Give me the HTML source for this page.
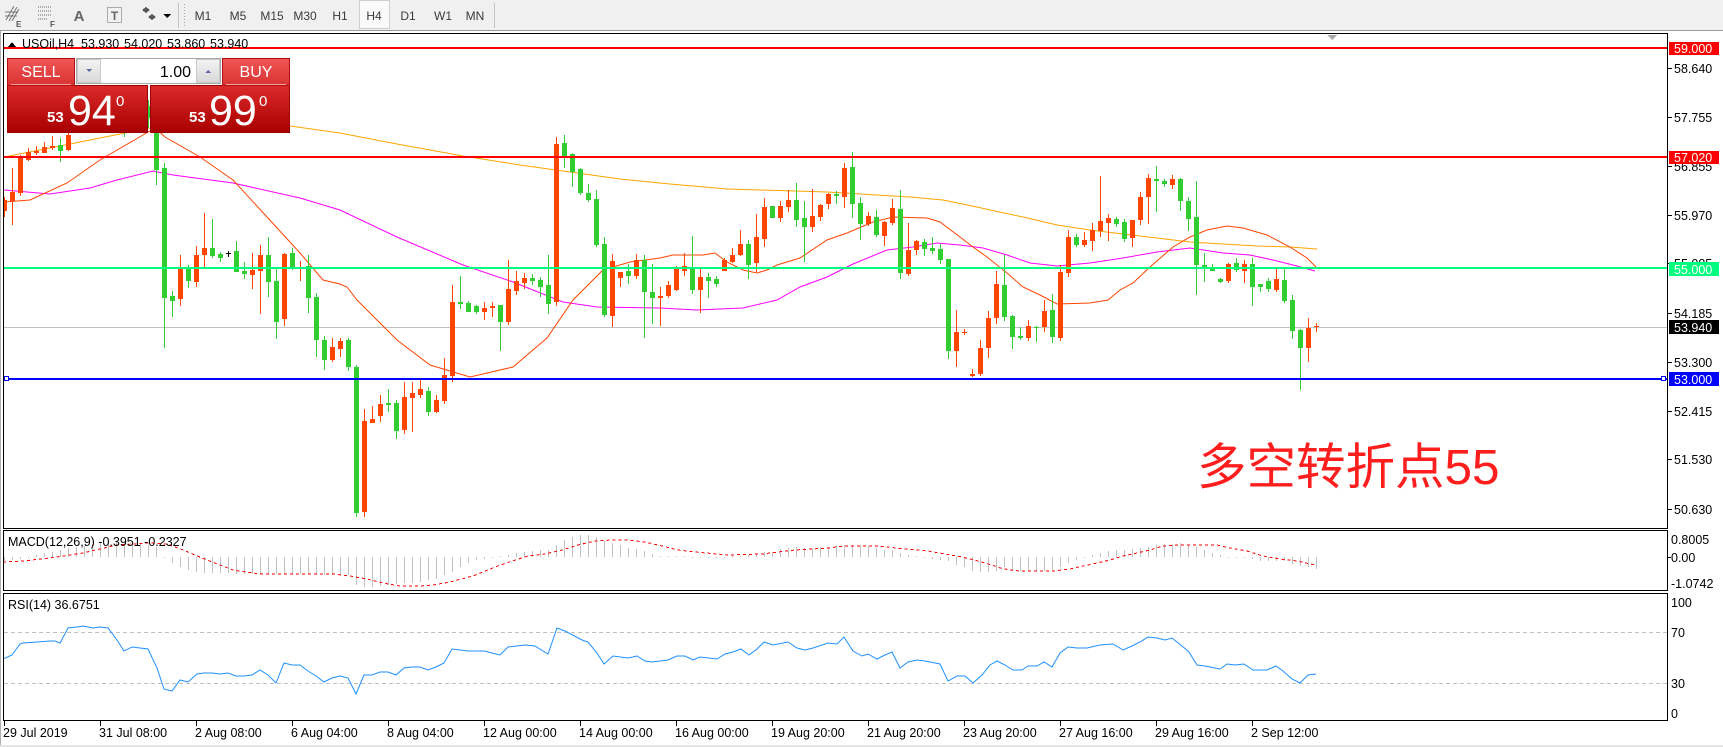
<!DOCTYPE html>
<html><head><meta charset="utf-8"><style>
html,body{margin:0;padding:0;background:#fff;overflow:hidden;width:1723px;height:747px}
svg{display:block;font-family:"Liberation Sans","Noto Sans CJK SC",sans-serif}
</style></head><body>
<svg width="1723" height="747" viewBox="0 0 1723 747" xmlns="http://www.w3.org/2000/svg" shape-rendering="crispEdges">
<defs>
<clipPath id="cm"><rect x="4" y="34" width="1663" height="494"/></clipPath>
<clipPath id="cd"><rect x="4" y="531" width="1663" height="59"/></clipPath>
<clipPath id="cr"><rect x="4" y="594" width="1663" height="126"/></clipPath>
<linearGradient id="gh" x1="0" y1="0" x2="0" y2="1"><stop offset="0" stop-color="#f25656"/><stop offset="1" stop-color="#d83232"/></linearGradient>
<linearGradient id="gp" x1="0" y1="0" x2="0" y2="1"><stop offset="0" stop-color="#dc2a2a"/><stop offset="1" stop-color="#a80000"/></linearGradient>
<linearGradient id="gb" x1="0" y1="0" x2="0" y2="1"><stop offset="0" stop-color="#f4f4f4"/><stop offset="1" stop-color="#d8d8d8"/></linearGradient>
</defs>
<!-- toolbar -->
<rect x="0" y="0" width="1723" height="30" fill="#f0f0f0"/>
<rect x="0" y="30" width="1723" height="1" fill="#9a9a9a"/>
<g stroke="#666" stroke-width="1" fill="none">
<path d="M6 20L14 6M9 21L17 7M12 21L19 9M5 12H18M5 16H17" stroke="#777"/>
<path d="M38 7H52M38 11H52M38 15H52M38 19H48" stroke-dasharray="1 1"/>
<rect x="107.5" y="7.5" width="14" height="15" stroke-dasharray="1 1"/>
<path d="M178.5 3V28M494.5 3V28" stroke="#c4c4c4"/>
<path d="M184.5 4V27" stroke="#aaa" stroke-dasharray="1 2"/>
</g>
<text x="16" y="27" font-size="8" font-weight="bold" fill="#555">E</text>
<text x="50" y="27" font-size="8" font-weight="bold" fill="#555">F</text>
<text x="79" y="21" font-size="15" font-weight="bold" fill="#666" text-anchor="middle">A</text>
<text x="114.5" y="20" font-size="12" font-weight="bold" fill="#666" text-anchor="middle">T</text>
<path d="M142 10l4-3 4 3-4 3zM148 17l4-3 4 3-4 3z" fill="#555"/>
<path d="M163 14h8l-4 4z" fill="#000"/>
<rect x="359.5" y="0.5" width="30" height="28" fill="#fafafa" stroke="#cfcfcf"/>
<g font-size="12" fill="#3a3a3a" text-anchor="middle">
<text x="203" y="20">M1</text><text x="238" y="20">M5</text><text x="272" y="20">M15</text><text x="305" y="20">M30</text><text x="340" y="20">H1</text><text x="374" y="20">H4</text><text x="408" y="20">D1</text><text x="443" y="20">W1</text><text x="475" y="20">MN</text>
</g>
<!-- left outer line -->
<rect x="0" y="31" width="1" height="716" fill="#b0b0b0"/>
<!-- main chart content -->
<g clip-path="url(#cm)">
<rect x="4" y="327" width="1663" height="1" fill="#c0c0c0"/>
<polyline fill="none" stroke="#ffa500" stroke-width="1" shape-rendering="auto" points="4,157 60,146 120,134 160,126 220,122 290,126 340,133 397,144 463,156 520,165 563,171 620,179 670,184 693,186 727,189 760,190 827,192 877,195 910,197 943,200 977,207 990,210 1023,217 1057,225 1090,230 1123,234 1157,238 1190,242 1223,244 1257,246 1290,247 1317,249"/>
<polyline fill="none" stroke="#ff00ff" stroke-width="1" shape-rendering="auto" points="4,190 50,194 90,188 117,180 153,171 173,175 233,183 300,198 340,210 397,237 463,265 513,282 563,302 597,307 660,308 697,310 743,308 777,300 800,287 827,277 853,264 887,250 913,247 937,243 960,245 983,248 1007,255 1030,263 1057,266 1090,263 1123,258 1157,252 1190,248 1223,253 1250,255 1273,260 1297,266 1315,271"/>
<polyline fill="none" stroke="#ff4500" stroke-width="1" shape-rendering="auto" points="4,202 30,200 67,183 100,160 143,135 155,128 165,137 200,157 233,180 267,217 300,253 323,280 340,284 347,287 357,300 397,340 430,365 470,377 513,367 547,338 573,300 603,270 630,262 660,258 673,255 703,255 715,253 727,262 743,270 757,273 767,270 777,265 800,258 827,240 847,233 873,222 893,217 927,218 940,222 960,237 973,247 987,257 1007,273 1023,287 1040,295 1057,304 1090,303 1108,300 1120,290 1133,283 1150,267 1173,247 1190,237 1207,230 1227,226 1243,228 1267,235 1290,247 1307,258 1316,267"/>
<path fill="none" stroke="#32cd32" stroke-width="1" d="M60.5 138V162M84.5 115V130M108.5 112V130M124.5 110V137M148.5 100V128M156.5 115V185M164.5 163V348M172.5 291V317M188.5 265V288M212.5 219V258M220.5 252V262M236.5 241V272M244.5 262V279M268.5 237V297M276.5 269V339M292.5 248V270M308.5 255V313M316.5 293V357M324.5 336V370M348.5 338V371M356.5 365V517M388.5 389V412M396.5 400V439M428.5 387V416M460.5 276V309M468.5 301V312M476.5 305V314M500.5 305V351M532.5 274V285M540.5 277V297M548.5 255V314M564.5 135V168M572.5 153V187M580.5 168V195M588.5 184V202M596.5 190V247M604.5 237V317M628.5 264V284M644.5 255V338M652.5 264V324M692.5 236V294M708.5 273V298M716.5 276V287M748.5 240V279M772.5 206V218M796.5 183V227M804.5 201V262M836.5 191V204M852.5 152V218M860.5 197V240M876.5 210V237M900.5 190V279M924.5 239V256M932.5 237V254M940.5 244V264M948.5 259V359M1004.5 255V321M1012.5 315V349M1020.5 327V340M1036.5 326V342M1052.5 294V343M1076.5 234V247M1116.5 217V227M1124.5 219V242M1156.5 166V212M1164.5 179V187M1180.5 178V211M1188.5 197V231M1196.5 181V295M1204.5 253V282M1212.5 264V271M1220.5 278V283M1236.5 258V272M1252.5 258V306M1260.5 284V292M1268.5 278V292M1284.5 269V303M1292.5 295V339M1300.5 329V390"/>
<path fill="#32cd32" d="M58 145h5V151h-5zM82 120h5V126h-5zM106 116h5V124h-5zM122 115h5V125h-5zM146 106h5V118h-5zM154 120h5V170h-5zM162 168h5V298h-5zM170 296h5V301h-5zM186 268h5V281h-5zM210 248h5V256h-5zM218 254h5V258h-5zM234 251h5V272h-5zM242 271h5V274h-5zM266 255h5V282h-5zM274 281h5V322h-5zM290 253h5V268h-5zM306 266h5V298h-5zM314 297h5V340h-5zM322 340h5V360h-5zM346 340h5V367h-5zM354 367h5V513h-5zM386 403h5V405h-5zM394 403h5V431h-5zM426 391h5V412h-5zM458 302h5V304h-5zM466 303h5V312h-5zM474 306h5V312h-5zM498 305h5V322h-5zM530 278h5V281h-5zM538 280h5V287h-5zM546 285h5V304h-5zM562 143h5V156h-5zM570 154h5V172h-5zM578 169h5V193h-5zM586 193h5V200h-5zM594 199h5V245h-5zM602 244h5V315h-5zM626 271h5V276h-5zM642 260h5V292h-5zM650 292h5V298h-5zM690 267h5V290h-5zM706 277h5V281h-5zM714 279h5V284h-5zM746 244h5V265h-5zM770 206h5V218h-5zM794 200h5V220h-5zM802 218h5V227h-5zM834 194h5V196h-5zM850 167h5V204h-5zM858 203h5V224h-5zM874 217h5V235h-5zM898 209h5V273h-5zM922 242h5V249h-5zM930 248h5V251h-5zM938 249h5V260h-5zM946 259h5V351h-5zM1002 285h5V317h-5zM1010 316h5V337h-5zM1018 336h5V338h-5zM1034 327h5V328h-5zM1050 310h5V337h-5zM1074 237h5V245h-5zM1114 219h5V224h-5zM1122 222h5V239h-5zM1154 179h5V181h-5zM1162 181h5V184h-5zM1178 179h5V201h-5zM1186 201h5V219h-5zM1194 217h5V265h-5zM1202 265h5V267h-5zM1210 268h5V271h-5zM1218 279h5V282h-5zM1234 263h5V270h-5zM1250 264h5V287h-5zM1258 284h5V287h-5zM1266 281h5V289h-5zM1282 280h5V301h-5zM1290 300h5V331h-5zM1298 330h5V348h-5z"/>
<path fill="none" stroke="#ff4500" stroke-width="1" d="M4.5 197V217M12.5 168V225M20.5 155V196M28.5 148V161M36.5 146V155M44.5 142V153M52.5 136V150M68.5 128V151M76.5 118V132M92.5 112V128M100.5 110V126M116.5 108V124M132.5 105V126M140.5 100V118M180.5 255V306M196.5 246V287M204.5 213V267M252.5 253V289M260.5 245V314M284.5 253V326M300.5 261V281M332.5 338V362M340.5 338V357M364.5 409V517M372.5 406V423M380.5 395V422M404.5 382V434M412.5 382V432M420.5 379V398M436.5 395V413M444.5 358V404M452.5 285V382M484.5 302V320M492.5 302V317M508.5 260V325M516.5 271V295M524.5 273V289M556.5 137V306M612.5 254V327M620.5 272V287M636.5 254V279M660.5 287V326M668.5 281V298M676.5 266V291M684.5 253V276M700.5 268V313M724.5 258V271M732.5 248V263M740.5 230V256M756.5 214V272M764.5 198V247M780.5 201V222M788.5 190V212M812.5 189V232M820.5 204V221M828.5 193V209M844.5 163V208M868.5 212V226M884.5 221V246M892.5 199V225M908.5 223V276M916.5 240V255M956.5 310V367M964.5 329V335M972.5 369V377M980.5 340V376M988.5 311V358M996.5 271V324M1028.5 320V341M1044.5 300V332M1060.5 265V341M1068.5 230V277M1084.5 232V247M1092.5 223V251M1100.5 176V237M1108.5 214V241M1132.5 220V247M1140.5 192V225M1148.5 174V224M1172.5 175V189M1228.5 263V283M1244.5 260V283M1276.5 268V292M1308.5 318V362M1316.5 323V332"/>
<path fill="#ff4500" d="M2 200h5V211h-5zM10 192h5V201h-5zM18 157h5V193h-5zM26 152h5V160h-5zM34 151h5V153h-5zM42 147h5V153h-5zM50 146h5V148h-5zM66 135h5V150h-5zM74 122h5V130h-5zM90 116h5V122h-5zM98 114h5V120h-5zM114 112h5V118h-5zM130 110h5V120h-5zM138 104h5V112h-5zM178 269h5V299h-5zM194 255h5V282h-5zM202 248h5V255h-5zM250 270h5V275h-5zM258 255h5V271h-5zM282 254h5V319h-5zM298 267h5V268h-5zM330 347h5V360h-5zM338 341h5V349h-5zM362 421h5V512h-5zM370 419h5V423h-5zM378 404h5V416h-5zM402 397h5V430h-5zM410 393h5V398h-5zM418 389h5V395h-5zM434 400h5V412h-5zM442 375h5V401h-5zM450 302h5V376h-5zM482 308h5V312h-5zM490 306h5V308h-5zM506 289h5V322h-5zM514 281h5V291h-5zM522 278h5V283h-5zM554 144h5V302h-5zM610 261h5V316h-5zM618 272h5V278h-5zM634 260h5V276h-5zM658 296h5V298h-5zM666 285h5V296h-5zM674 269h5V290h-5zM682 266h5V271h-5zM698 277h5V290h-5zM722 260h5V271h-5zM730 255h5V262h-5zM738 244h5V255h-5zM754 237h5V263h-5zM762 207h5V239h-5zM778 206h5V218h-5zM786 200h5V207h-5zM810 216h5V227h-5zM818 205h5V217h-5zM826 194h5V204h-5zM842 168h5V197h-5zM866 216h5V224h-5zM882 222h5V236h-5zM890 208h5V223h-5zM906 250h5V274h-5zM914 241h5V250h-5zM954 332h5V351h-5zM962 332h5V333h-5zM970 374h5V376h-5zM978 348h5V374h-5zM986 318h5V348h-5zM994 284h5V318h-5zM1026 326h5V338h-5zM1042 311h5V327h-5zM1058 272h5V338h-5zM1066 237h5V273h-5zM1082 240h5V245h-5zM1090 230h5V241h-5zM1098 221h5V231h-5zM1106 218h5V223h-5zM1130 220h5V238h-5zM1138 197h5V220h-5zM1146 178h5V197h-5zM1170 179h5V185h-5zM1226 264h5V281h-5zM1242 264h5V271h-5zM1274 279h5V290h-5zM1306 328h5V348h-5zM1314 326h5V327h-5z"/>
<path fill="none" stroke="#000" stroke-width="1" d="M228.5 251V257"/>
<rect x="226" y="253" width="5" height="1" fill="#000"/>
<rect x="4" y="47" width="1663" height="2" fill="#ff0000"/>
<rect x="4" y="156" width="1663" height="2" fill="#ff0000"/>
<rect x="4" y="267" width="1663" height="2" fill="#00ff7f"/>
<rect x="4" y="378" width="1663" height="2" fill="#0000ff"/>
<rect x="4.5" y="376.5" width="4" height="4" fill="#fff" stroke="#0000ff"/>
<rect x="1661.5" y="376.5" width="4" height="4" fill="#fff" stroke="#0000ff"/>
</g>
<path d="M1327 35h10l-5 5z" fill="#a8a8a8"/>
<!-- title -->
<path d="M8 47l4-5 4 5z" fill="#000"/>
<g font-size="12.5" fill="#000">
<text x="22" y="48">USOil,H4</text><text x="81" y="48">53.930</text><text x="124" y="48">54.020</text><text x="167" y="48">53.860</text><text x="210" y="48">53.940</text>
</g>
<!-- trade panel -->
<rect x="7.5" y="85.5" width="140" height="47" fill="url(#gp)" stroke="#9a0000"/>
<rect x="150.5" y="85.5" width="139" height="47" fill="url(#gp)" stroke="#9a0000"/>
<rect x="7.5" y="58.5" width="67" height="27" fill="url(#gh)" stroke="#b01010"/>
<rect x="222.5" y="58.5" width="67" height="27" fill="url(#gh)" stroke="#b01010"/>
<rect x="11" y="84" width="60" height="1" fill="#f4a0a0"/>
<rect x="226" y="84" width="60" height="1" fill="#f4a0a0"/>
<rect x="76.5" y="58.5" width="144" height="25" fill="#fff" stroke="#a8a8a8"/>
<rect x="77.5" y="59.5" width="23" height="23" fill="url(#gb)" stroke="#c8c8c8"/>
<rect x="196.5" y="59.5" width="23" height="23" fill="url(#gb)" stroke="#c8c8c8"/>
<path d="M86 69h6l-3 3z" fill="#5a6aa8"/>
<path d="M205 73h6l-3-3z" fill="#5a6aa8"/>
<g fill="#fff" shape-rendering="auto">
<text x="41" y="77" font-size="16" text-anchor="middle">SELL</text>
<text x="256" y="77" font-size="16" text-anchor="middle">BUY</text>
<text x="47" y="122" font-size="15" font-weight="bold">53</text>
<text x="68" y="125" font-size="43">94</text>
<text x="116" y="106" font-size="15">0</text>
<text x="189" y="122" font-size="15" font-weight="bold">53</text>
<text x="209" y="125" font-size="43">99</text>
<text x="259" y="106" font-size="15">0</text>
</g>
<text x="191" y="77" font-size="16" text-anchor="end" fill="#000">1.00</text>
<!-- Chinese annotation -->
<text x="1197" y="484" font-size="49.5" fill="#ff1e1e" font-family="'Liberation Sans','Noto Sans CJK SC',sans-serif" shape-rendering="auto">多空转折点55</text>
<!-- MACD -->
<g clip-path="url(#cd)">
<path fill="none" stroke="#c0c0c0" stroke-width="1" d="M4.5 557V561M12.5 557V560M20.5 557V559M28.5 557V558M36.5 557V555M44.5 557V553M52.5 557V552M60.5 557V550M68.5 557V548M76.5 557V547M84.5 557V546M92.5 557V544M100.5 557V543M108.5 557V543M116.5 557V542M124.5 557V542M132.5 557V543M140.5 557V544M148.5 557V545M156.5 557V547M164.5 557V558M172.5 557V563M180.5 557V567M188.5 557V570M196.5 557V572M204.5 557V573M212.5 557V573M220.5 557V573M228.5 557V573M236.5 557V574M244.5 557V574M252.5 557V574M260.5 557V574M268.5 557V574M276.5 557V574M284.5 557V574M292.5 557V574M300.5 557V574M308.5 557V574M316.5 557V574M324.5 557V575M332.5 557V575M340.5 557V575M348.5 557V575M356.5 557V585M364.5 557V587M372.5 557V587M380.5 557V586M388.5 557V585M396.5 557V584M404.5 557V583M412.5 557V583M420.5 557V582M428.5 557V580M436.5 557V579M444.5 557V575M452.5 557V572M460.5 557V567M468.5 557V563M476.5 557V560M484.5 557V559M492.5 557V558M500.5 557V556M508.5 557V555M516.5 557V553M524.5 557V552M532.5 557V551M540.5 557V550M548.5 557V550M556.5 557V545M564.5 557V540M572.5 557V537M580.5 557V535M588.5 557V535M596.5 557V537M604.5 557V541M612.5 557V543M620.5 557V545M628.5 557V548M636.5 557V549M644.5 557V551M652.5 557V554M660.5 557V556M668.5 557V556M676.5 557V556M684.5 557V556M692.5 557V558M700.5 557V558M708.5 557V558M716.5 557V558M724.5 557V558M732.5 557V556M740.5 557V556M748.5 557V555M756.5 557V553M764.5 557V552M772.5 557V552M780.5 557V549M788.5 557V548M796.5 557V547M804.5 557V548M812.5 557V548M820.5 557V547M828.5 557V547M836.5 557V545M844.5 557V545M852.5 557V545M860.5 557V545M868.5 557V546M876.5 557V548M884.5 557V550M892.5 557V550M900.5 557V553M908.5 557V555M916.5 557V556M924.5 557V558M932.5 557V559M940.5 557V560M948.5 557V561M956.5 557V565M964.5 557V567M972.5 557V571M980.5 557V572M988.5 557V572M996.5 557V571M1004.5 557V567M1012.5 557V571M1020.5 557V571M1028.5 557V571M1036.5 557V571M1044.5 557V571M1052.5 557V570M1060.5 557V567M1068.5 557V563M1076.5 557V560M1084.5 557V558M1092.5 557V555M1100.5 557V553M1108.5 557V551M1116.5 557V550M1124.5 557V550M1132.5 557V549M1140.5 557V548M1148.5 557V547M1156.5 557V545M1164.5 557V544M1172.5 557V544M1180.5 557V543M1188.5 557V545M1196.5 557V547M1204.5 557V550M1212.5 557V553M1220.5 557V555M1228.5 557V558M1236.5 557V558M1244.5 557V558M1252.5 557V559M1260.5 557V561M1268.5 557V561M1276.5 557V561M1284.5 557V561M1292.5 557V564M1300.5 557V566M1308.5 557V567M1316.5 557V569"/>
<polyline fill="none" stroke="#ff0000" stroke-width="1" stroke-dasharray="3 3" points="3,562 23,561 50,558 83,553 117,545 150,543 167,544 183,550 207,560 233,570 260,574 333,574 350,576 367,579 383,583 400,586 420,586 433,585 450,582 473,576 495,567 512,561 528,556 545,554 562,550 578,545 595,541 612,540 628,540 645,542 662,546 678,550 695,552 728,555 762,554 778,552 795,550 828,548 845,546 878,546 905,549 928,551 945,554 962,557 978,561 995,566 1000,568 1010,570 1020,571 1053,571 1070,569 1083,566 1097,563 1110,560 1123,556 1137,553 1150,550 1163,546 1177,545 1217,545 1230,548 1247,551 1263,556 1280,559 1297,561 1315,565"/>
</g>
<text x="8" y="546" font-size="12.5" fill="#000">MACD(12,26,9) -0.3951 -0.2327</text>
<!-- RSI -->
<g clip-path="url(#cr)">
<path d="M4 632.5H1667M4 683.5H1667" stroke="#c0c0c0" stroke-width="1" stroke-dasharray="4 3"/>
<polyline fill="none" stroke="#1e90ff" stroke-width="1" shape-rendering="auto" points="3,659 12,655 20,644 23,643 37,642 50,641 55,641 60,643 68,628 77,627 83,626 93,628 100,627 108,628 117,640 124,651 132,647 140,648 148,649 157,668 164,689 172,691 180,680 188,682 197,674 204,673 212,673 220,674 228,673 236,676 244,676 252,675 260,670 268,675 276,683 284,663 292,665 300,665 308,671 316,676 324,682 332,678 340,676 348,678 356,694 364,675 372,675 380,672 388,672 396,675 404,668 412,667 420,667 428,670 436,667 444,663 452,649 460,650 468,651 476,651 484,651 492,653 500,655 508,647 525,645 535,646 548,654 557,628 565,631 582,640 588,642 597,653 604,664 613,656 628,658 637,656 645,661 652,662 668,660 677,656 685,656 693,660 700,657 717,659 725,654 733,652 741,649 749,655 757,649 764,642 773,645 788,642 797,648 805,650 813,648 828,643 837,644 844,637 853,651 862,656 868,654 877,659 885,655 892,652 900,668 908,662 917,660 925,661 940,664 948,681 957,676 965,676 973,683 982,675 990,665 997,661 1005,665 1013,670 1022,670 1028,666 1037,666 1044,662 1052,667 1060,653 1068,647 1077,648 1087,648 1100,645 1113,644 1123,650 1132,646 1140,642 1148,637 1157,638 1165,640 1172,638 1182,646 1189,652 1197,665 1205,666 1220,669 1227,664 1235,665 1244,664 1253,670 1267,670 1276,666 1283,671 1292,679 1300,683 1308,675 1316,674"/>
</g>
<text x="8" y="609" font-size="12.5" fill="#000">RSI(14) 36.6751</text>
<!-- frames -->
<g fill="none" stroke="#000" stroke-width="1">
<rect x="3.5" y="33.5" width="1664" height="495"/>
<rect x="3.5" y="530.5" width="1664" height="60"/>
<rect x="3.5" y="593.5" width="1664" height="127"/>
</g>
<!-- price axis ticks -->
<path stroke="#000" stroke-width="1" d="M1668 68.5h4M1668 117.5h4M1668 166.5h4M1668 215.5h4M1668 263.5h4M1668 313.5h4M1668 362.5h4M1668 411.5h4M1668 459.5h4M1668 509.5h4M1668 557.5h3"/>
<g font-size="12.5" fill="#000">
<text x="1674" y="73">58.640</text>
<text x="1674" y="122">57.755</text>
<text x="1674" y="171">56.855</text>
<text x="1674" y="220">55.970</text>
<text x="1674" y="268">55.085</text>
<text x="1674" y="318">54.185</text>
<text x="1674" y="367">53.300</text>
<text x="1674" y="416">52.415</text>
<text x="1674" y="464">51.530</text>
<text x="1674" y="514">50.630</text>
<text x="1671" y="544">0.8005</text>
<text x="1671" y="562">0.00</text>
<text x="1671" y="588">-1.0742</text>
<text x="1671" y="607">100</text>
<text x="1671" y="637">70</text>
<text x="1671" y="688">30</text>
<text x="1671" y="718">0</text>
</g>
<rect x="1669" y="42" width="50" height="13" fill="#ff0000"/>
<rect x="1669" y="151" width="50" height="13" fill="#ff0000"/>
<rect x="1669" y="262" width="50" height="14" fill="#00ff7f"/>
<rect x="1669" y="320" width="50" height="14" fill="#000"/>
<rect x="1669" y="372" width="50" height="14" fill="#0000ff"/>
<g font-size="12.5" fill="#fff">
<text x="1674" y="53">59.000</text>
<text x="1674" y="162">57.020</text>
<text x="1674" y="274">55.000</text>
<text x="1674" y="332">53.940</text>
<text x="1674" y="384">53.000</text>
</g>
<!-- time axis -->
<path stroke="#000" stroke-width="1" d="M4.5 721v5M100.5 721v5M196.5 721v5M292.5 721v5M388.5 721v5M484.5 721v5M580.5 721v5M676.5 721v5M772.5 721v5M868.5 721v5M964.5 721v5M1060.5 721v5M1156.5 721v5M1252.5 721v5"/>
<g font-size="12.5" fill="#000">
<text x="3" y="737">29 Jul 2019</text>
<text x="99" y="737">31 Jul 08:00</text>
<text x="195" y="737">2 Aug 08:00</text>
<text x="291" y="737">6 Aug 04:00</text>
<text x="387" y="737">8 Aug 04:00</text>
<text x="483" y="737">12 Aug 00:00</text>
<text x="579" y="737">14 Aug 00:00</text>
<text x="675" y="737">16 Aug 00:00</text>
<text x="771" y="737">19 Aug 20:00</text>
<text x="867" y="737">21 Aug 20:00</text>
<text x="963" y="737">23 Aug 20:00</text>
<text x="1059" y="737">27 Aug 16:00</text>
<text x="1155" y="737">29 Aug 16:00</text>
<text x="1251" y="737">2 Sep 12:00</text>
</g>
<rect x="0" y="745" width="1723" height="2" fill="#e4e4e4"/>
</svg>
</body></html>
